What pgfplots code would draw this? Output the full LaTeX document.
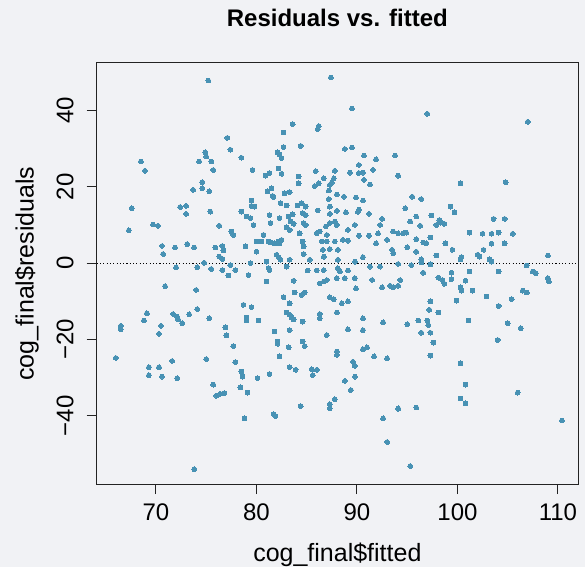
\documentclass[border=0pt]{standalone}
\usepackage{pgfplots}
\pgfplotsset{compat=1.18}
\usepackage{fontspec}
\setmainfont{Liberation Sans}
\definecolor{bg}{RGB}{241,242,245}
\definecolor{pt}{RGB}{72,146,180}
\definecolor{ax}{RGB}{35,35,35}
\pgfplotstableread{
x y
75.2 47.8
68.5 26.6
68.9 24.2
74.9 29.0
75.0 27.9
74.3 26.6
75.5 26.6
75.7 24.4
74.6 21.2
73.7 19.2
74.6 19.6
75.3 18.8
67.6 14.4
72.4 14.7
73.0 15.0
73.0 12.9
75.4 13.5
67.3 8.6
69.7 10.1
70.2 9.8
76.3 9.8
77.5 8.3
77.7 7.4
70.6 4.5
70.7 2.4
71.9 4.1
73.1 5.0
73.8 4.1
75.9 4.1
76.6 4.5
76.7 3.3
76.3 1.7
76.6 1.1
74.8 0.1
72.0 -1.1
74.1 -1.1
75.5 -1.5
76.6 -1.8
77.4 -0.5
77.9 -1.8
77.2 -3.2
70.9 -6.0
74.0 -7.0
69.1 -13.1
68.8 -15.0
66.5 -16.4
66.5 -17.3
70.5 -16.4
70.3 -18.5
71.7 -13.3
72.1 -14.0
72.2 -14.7
72.6 -15.7
73.3 -13.4
74.1 -12.0
75.3 -14.4
76.9 -16.8
77.0 -18.9
77.7 -21.7
66.0 -24.8
69.3 -27.2
70.3 -27.2
69.3 -29.3
70.6 -29.7
71.6 -25.6
72.1 -30.1
75.0 -25.1
77.9 -25.9
75.7 -31.8
76.0 -34.7
76.4 -34.2
76.8 -34.0
73.8 -53.9
87.4 48.6
89.5 40.5
86.2 35.9
86.1 35.1
83.6 36.4
82.7 34.2
77.1 32.8
77.4 29.7
78.5 27.6
82.7 30.4
84.4 30.7
82.1 29.0
82.3 28.4
82.5 27.5
88.8 29.9
89.5 30.3
90.7 28.2
91.9 27.2
93.8 28.2
94.1 22.9
79.6 24.4
80.9 22.9
81.3 23.6
82.2 24.8
82.5 23.4
84.2 22.7
84.2 20.9
85.9 24.1
86.7 22.2
87.8 24.2
87.7 22.2
87.5 21.1
89.3 23.7
90.2 23.6
90.2 25.7
90.6 23.7
91.6 24.4
90.7 21.8
91.3 20.6
85.8 20.2
86.2 20.9
87.2 19.0
87.3 20.5
81.1 18.8
81.5 19.6
81.6 17.6
81.7 17.3
82.8 18.3
83.3 18.6
88.0 18.0
88.7 17.4
89.9 17.2
90.6 16.4
79.5 16.4
79.5 15.0
79.8 14.8
82.4 15.7
83.0 15.1
84.1 15.1
84.5 15.7
84.9 14.8
87.2 16.8
87.3 14.8
78.5 13.5
79.0 12.2
79.4 11.8
81.3 12.6
82.3 11.8
83.2 12.2
83.6 12.8
84.6 13.1
84.9 12.6
86.1 13.8
87.3 12.9
88.0 13.7
88.9 13.3
90.1 13.4
90.2 14.0
91.2 12.9
92.5 11.6
79.7 10.0
81.4 10.5
83.4 10.9
83.7 10.3
83.0 9.4
83.3 8.7
84.7 10.5
84.3 7.8
84.9 10.0
86.3 8.3
86.0 7.8
86.9 9.6
87.0 7.4
87.3 10.5
87.8 10.9
88.0 10.0
89.8 10.0
89.1 8.7
90.2 7.2
91.2 7.2
92.3 10.0
92.1 7.8
93.6 8.3
94.1 7.8
78.9 4.4
80.0 5.7
80.0 3.0
80.5 5.7
80.7 7.4
81.2 5.7
81.4 5.4
81.8 5.2
82.2 5.7
82.5 6.1
82.3 5.2
84.6 5.7
84.7 4.4
86.5 5.7
87.0 5.7
86.6 3.5
87.3 3.7
87.8 5.7
88.1 3.5
88.6 6.1
89.1 5.9
91.9 5.2
93.0 6.1
93.5 3.5
93.6 2.6
82.0 2.2
82.2 1.6
82.4 0.9
84.7 2.4
79.4 0.0
81.0 0.4
83.3 0.9
85.3 0.9
86.7 1.7
88.1 0.9
89.8 0.4
90.6 1.6
92.3 -0.9
94.1 -0.2
79.2 -3.1
81.2 -1.3
81.3 -1.8
83.0 -0.9
85.1 -1.9
86.0 -1.9
86.7 -1.8
88.1 -1.3
88.3 -2.2
89.1 -1.9
91.3 -0.9
81.0 -4.8
83.7 -4.6
86.3 -5.3
86.7 -4.8
87.0 -4.4
88.0 -3.9
88.8 -3.9
89.8 -3.9
89.9 -6.6
91.5 -4.4
92.5 -6.3
93.3 -5.9
93.6 -6.3
94.1 -5.9
82.7 -8.9
83.8 -7.7
84.5 -8.3
84.8 -7.7
87.3 -8.9
87.7 -9.4
88.5 -10.5
89.1 -10.0
83.3 -10.5
78.7 -10.9
79.5 -11.5
83.0 -12.9
83.3 -13.5
86.3 -13.3
88.0 -12.9
79.0 -14.2
79.0 -15.0
80.2 -15.0
83.5 -14.2
83.7 -14.7
84.6 -15.3
86.3 -14.4
90.6 -14.4
92.6 -15.5
81.8 -17.9
83.3 -17.5
87.0 -18.8
89.1 -17.3
90.6 -17.5
82.1 -20.5
82.1 -21.1
83.2 -22.0
84.6 -20.5
84.8 -21.7
88.0 -23.1
88.0 -24.0
90.6 -22.5
91.0 -22.0
91.7 -24.4
93.0 -24.9
82.3 -24.4
78.5 -28.4
78.6 -29.7
78.4 -32.5
79.1 -33.9
80.1 -30.1
81.3 -29.0
83.3 -27.2
83.9 -27.9
85.5 -27.8
86.0 -27.9
85.6 -29.3
88.8 -30.8
89.4 -33.2
89.8 -29.7
89.6 -25.8
89.8 -26.9
87.8 -35.6
87.3 -36.9
87.3 -38.0
84.4 -37.4
81.7 -39.5
81.9 -40.0
78.8 -40.6
92.6 -40.6
93.0 -46.8
94.1 -38.0
97.0 39.1
107.0 37.0
100.3 20.9
104.8 21.2
95.5 17.4
96.4 16.8
94.8 14.4
99.3 14.8
99.7 13.3
95.9 12.2
97.4 12.5
98.2 11.3
103.6 11.6
104.7 11.6
95.3 10.9
96.3 9.8
97.9 10.0
98.3 10.6
98.7 10.3
94.6 7.8
94.9 8.0
95.9 6.3
96.6 5.4
96.9 5.2
97.3 6.7
95.0 4.2
95.9 3.0
98.8 5.2
101.2 8.0
102.5 7.7
103.4 7.7
104.1 8.0
105.5 7.7
104.7 5.2
103.4 5.1
99.5 3.5
100.3 1.0
100.4 1.6
97.9 2.0
102.0 2.2
102.2 1.7
102.6 3.5
103.2 1.0
103.4 0.4
109.0 2.0
96.4 1.0
96.4 0.2
95.4 -0.5
97.3 -0.3
106.9 -0.6
107.5 -2.2
107.8 -2.6
109.0 -3.9
109.1 -4.8
96.6 -2.5
99.4 -2.5
101.2 -2.2
104.1 -2.2
98.1 -3.8
98.5 -4.4
98.7 -5.4
99.4 -4.2
100.8 -4.6
94.3 -4.4
100.3 -6.3
100.4 -7.2
101.5 -7.2
106.5 -7.2
106.9 -7.7
102.9 -8.7
105.4 -9.4
99.9 -9.8
97.3 -10.0
97.2 -12.2
98.1 -12.9
104.1 -11.2
95.0 -16.0
96.1 -15.0
97.0 -15.0
97.1 -16.2
96.4 -18.2
97.3 -18.2
101.1 -15.0
105.0 -15.7
106.3 -17.0
97.6 -20.8
97.3 -24.2
100.3 -26.2
100.8 -31.8
100.3 -35.4
100.8 -36.7
106.0 -33.9
94.1 -38.1
95.9 -37.8
110.4 -41.2
95.3 -53.1
104.0 -20.1
}\resid
\begin{document}
\begin{tikzpicture}[x=1pt,y=1pt]
\fill[bg] (0,0) rectangle (585,567);
\path[use as bounding box] (0,0) rectangle (585,567);
\begin{axis}[
  at={(96.7pt,83pt)}, anchor=south west,
  scale only axis, width=481.3pt, height=421pt,
  xmin=64.1, xmax=112.0, ymin=-57.8, ymax=52.4,
  axis line style={ax, line width=1pt},
  xtick={70,80,90,100,110}, xticklabels={70,80,90,100,110},
  ytick={-40,-20,0,20,40}, yticklabels={−40,−20,0,20,40},
  tick align=outside, major tick length=10pt,
  tick style={ax, line width=1pt},
  xtick pos=bottom, ytick pos=left,
  tick label style={font=\fontsize{24}{28}\selectfont, text=black},
  xticklabel style={anchor=north, inner sep=0pt},
  xticklabel shift=10pt,
  yticklabel style={rotate=90, anchor=south, inner sep=0pt},
  yticklabel shift=13pt,
  title={\textbf{Residuals vs. fitted}},
  title style={at={(axis description cs:0.5,1.0926)}, anchor=center, font=\fontsize{24}{28}\selectfont},
  xlabel={cog\_final\$fitted},
  xlabel style={at={(axis description cs:0.5,-0.168)}, anchor=center, font=\fontsize{25}{30}\selectfont},
  ylabel={cog\_final\$residuals},
  ylabel style={at={(axis description cs:-0.145,0.5)}, anchor=center, rotate=0, font=\fontsize{25}{30}\selectfont},
  clip=false,
]
\draw[black, line width=1.1pt, dash pattern=on 1.1pt off 2.2pt] (axis cs:64.1,0) -- (axis cs:112.0,0);
\addplot[only marks, mark=*, mark size=2.4pt, mark options={fill=pt, draw=pt, line width=0pt}] table {\resid};
\end{axis}
\end{tikzpicture}
\end{document}
